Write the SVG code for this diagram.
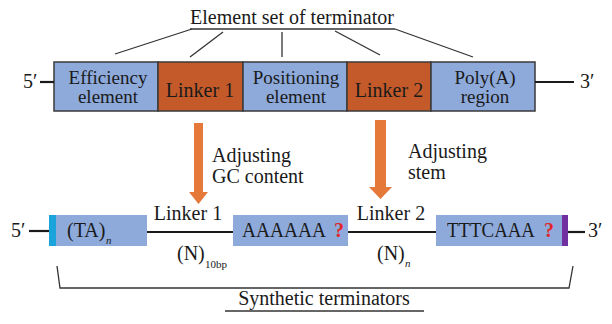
<svg xmlns="http://www.w3.org/2000/svg" width="612" height="324" viewBox="0 0 612 324">
  <style>
    text { font-family: 'Liberation Serif', 'DejaVu Serif', serif; fill: #1a1a1a; }
    .lbl { font-size: 20px; }
    .sm { font-size: 19px; }
    .mid { text-anchor: middle; }
    .sub { font-size: 11px; font-style: italic; }
    .sub2 { font-size: 11px; }
    .q { font-size: 20px; font-weight: bold; fill: #e0262a; }
    .elem { fill: #8eaadb; stroke: #3a3a3a; stroke-width: 1.5; }
    .link { fill: #c45a2a; stroke: #3a3a3a; stroke-width: 1.5; }
    .blk { fill: #8eaadb; }
    .wire { stroke: #1a1a1a; stroke-width: 2.2; fill: none; }
    .thin { stroke: #333; stroke-width: 1.3; fill: none; }
    .arrow { fill: #e5793a; }
  </style>

  <g font-family="Liberation Serif, DejaVu Serif, serif">
  <!-- heading of the top row -->
  <g id="title">
    <text class="lbl mid" x="292" y="24">Element set of terminator</text>
    <line class="thin" x1="190" y1="29" x2="395" y2="29"/>
  </g>

  <!-- top row: element set -->
  <g id="five-prime-top">
    <text class="lbl" x="23" y="88">5′</text>
  </g>
  <g id="efficiency-element">
    <rect class="elem" x="54" y="62" width="104" height="49"/>
    <text class="sm mid" x="108" y="84">Efficiency</text>
    <text class="sm mid" x="108" y="103">element</text>
  </g>
  <g id="linker1-top">
    <rect class="link" x="158" y="62" width="85" height="49"/>
    <text class="lbl mid" x="200" y="97">Linker 1</text>
  </g>
  <g id="positioning-element">
    <rect class="elem" x="243" y="62" width="104" height="49"/>
    <text class="sm mid" x="296" y="84">Positioning</text>
    <text class="sm mid" x="296" y="103">element</text>
  </g>
  <g id="linker2-top">
    <rect class="link" x="347" y="62" width="84" height="49"/>
    <text class="lbl mid" x="389" y="97">Linker 2</text>
  </g>
  <g id="polya-region">
    <rect class="elem" x="431" y="62" width="104" height="49"/>
    <text class="sm mid" x="485" y="84">Poly(A)</text>
    <text class="sm mid" x="485" y="103">region</text>
  </g>
  <g id="three-prime-top">
    <text class="lbl" x="580" y="88">3′</text>
  </g>

  <!-- transformation notes -->
  <g id="note-gc">
    <text class="lbl" x="212" y="162">Adjusting</text>
    <text class="lbl" x="212" y="183">GC content</text>
  </g>
  <g id="note-stem">
    <text class="lbl" x="408" y="158">Adjusting</text>
    <text class="lbl" x="408" y="179">stem</text>
  </g>

  <!-- bottom row: synthetic terminator -->
  <g id="five-prime-bottom">
    <text class="lbl" x="11" y="237">5′</text>
  </g>
  <g id="ta-block">
    <rect class="blk" x="49" y="215" width="98" height="31"/>
    <rect x="49" y="215" width="7" height="31" fill="#1ba3dc"/>
    <text class="lbl" x="67" y="237">(TA)</text>
    <text class="sub" x="106" y="244">n</text>
  </g>
  <g id="linker1-bottom">
    <text class="lbl mid" x="188" y="220">Linker 1</text>
    <text class="lbl" x="177" y="260">(N)</text>
    <text class="sub2" x="205" y="268">10bp</text>
  </g>
  <g id="a-block">
    <rect class="blk" x="233" y="215" width="115" height="31"/>
    <text class="lbl" x="242" y="237" textLength="84" lengthAdjust="spacingAndGlyphs">AAAAAA</text>
    <text class="q" x="334" y="237">?</text>
  </g>
  <g id="linker2-bottom">
    <text class="lbl mid" x="391" y="220">Linker 2</text>
    <text class="lbl" x="377" y="260">(N)</text>
    <text class="sub" x="405" y="267">n</text>
  </g>
  <g id="tttcaaa-block">
    <rect class="blk" x="436" y="215" width="132" height="31"/>
    <rect x="562" y="215" width="6" height="31" fill="#7030a0"/>
    <text class="lbl" x="447" y="237" textLength="88" lengthAdjust="spacingAndGlyphs">TTTCAAA</text>
    <text class="q" x="544" y="237">?</text>
  </g>
  <g id="three-prime-bottom">
    <text class="lbl" x="588" y="237">3′</text>
  </g>

  <!-- label under the bracket -->
  <g id="synthetic-label">
    <text class="lbl mid" x="324" y="305">Synthetic terminators</text>
    <line class="thin" x1="225" y1="311" x2="424" y2="311"/>
  </g>
  </g>

  <g id="connectors">
    <!-- fan from heading to each element -->
    <line class="thin" x1="192" y1="29" x2="115" y2="54"/>
    <line class="thin" x1="223" y1="32" x2="190" y2="57"/>
    <line class="thin" x1="282" y1="32" x2="282" y2="57"/>
    <line class="thin" x1="335" y1="31" x2="380" y2="55"/>
    <line class="thin" x1="395" y1="29" x2="473" y2="57"/>
    <!-- strand ends, top row -->
    <line class="wire" x1="40" y1="82" x2="54" y2="82"/>
    <line class="wire" x1="535" y1="82" x2="574" y2="82"/>
    <!-- down arrows -->
    <path class="arrow" d="M194,123 H203 V192 H208 L198.5,204 L189,192 H194 Z"/>
    <path class="arrow" d="M375,120 H386 V187 H392 L380.5,199 L369,187 H375 Z"/>
    <!-- strand, bottom row -->
    <line class="wire" x1="29" y1="231" x2="49" y2="231"/>
    <line class="wire" x1="147" y1="232" x2="233" y2="232"/>
    <line class="wire" x1="348" y1="232" x2="436" y2="232"/>
    <line class="wire" x1="568" y1="232" x2="585" y2="232"/>
    <!-- bracket -->
    <path class="thin" d="M57,266 L60,288 H569 L573,266"/>
  </g>
</svg>
